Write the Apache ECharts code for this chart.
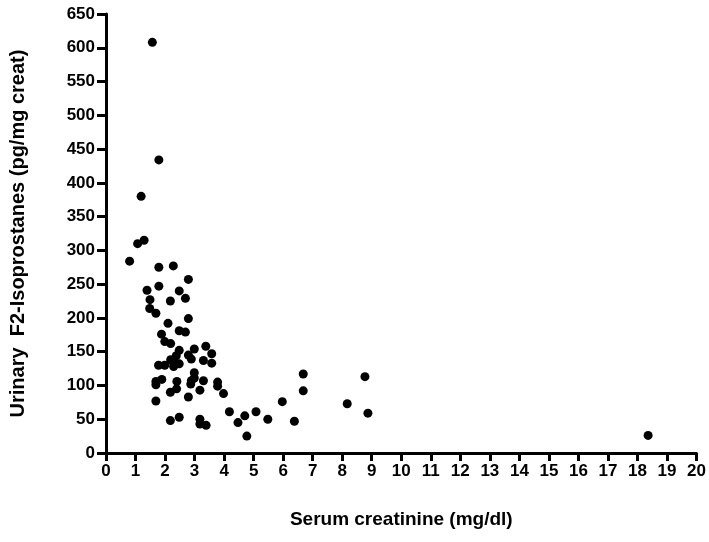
<!DOCTYPE html>
<html>
<head>
<meta charset="utf-8">
<script src="https://cdn.jsdelivr.net/npm/echarts@6/dist/echarts.min.js"></script>
<style>
  html, body { margin: 0; padding: 0; background: #fff; }
  #chart { width: 709px; height: 542px; }
</style>
</head>
<body>
<div id="chart"></div>
<script>
// serum creatinine (mg/dl)
var creatinine = [
  1.57, 1.79, 1.19, 1.07, 1.29, 0.80, 1.79, 2.28, 2.79, 1.39,
  1.79, 2.48, 1.49, 2.18, 2.69, 1.48, 1.69, 2.79, 2.10, 1.88,
  2.48, 2.69, 1.99, 2.19, 2.48, 2.79, 2.99, 3.38, 3.58, 2.89,
  3.30, 3.58, 2.19, 2.38, 2.29, 2.48, 2.29, 1.78, 1.99, 2.99,
  1.69, 1.69, 1.89, 2.40, 2.89, 2.99, 3.30, 2.87, 3.78, 3.78,
  2.39, 2.18, 3.18, 3.98, 2.79, 1.69, 4.18, 5.08, 2.18, 2.48,
  3.18, 3.18, 3.39, 4.47, 4.70, 4.77, 5.48, 5.97, 6.38, 6.68,
  6.68, 8.17, 8.77, 8.87, 18.36
];
// urinary F2-isoprostanes (pg/mg creat)
var isoprostanes = [
  608, 434, 380, 310, 315, 284, 275, 277, 257, 241,
  247, 240, 227, 225, 229, 214, 207, 199, 192, 176,
  181, 179, 165, 162, 152, 145, 154, 158, 147, 139,
  137, 133, 138, 144, 134, 132, 128, 130, 130, 119,
  106, 101, 109, 106, 107, 111, 107, 102, 105, 99,
  95, 90, 93, 88, 83, 77, 61, 61, 48, 53,
  50, 43, 41, 45, 55, 25, 50, 76, 47, 117,
  92, 73, 113, 59, 26
];
var xName = 'Serum creatinine (mg/dl)';
var yName = 'Urinary  F2-Isoprostanes (pg/mg creat)';

var points = creatinine.map(function (x, i) { return [x, isoprostanes[i]]; });

var font = "'Liberation Sans', Arial, Helvetica, sans-serif";
var myChart = echarts.init(document.getElementById('chart'));
option = {
  animation: false,
  grid: { left: 103, right: 9, top: 14, bottom: 89 },
  xAxis: {
    type: 'value',
    min: 0, max: 20, interval: 1,
    name: xName,
    nameLocation: 'middle',
    nameGap: 57,
    nameTextStyle: { color: '#000', fontSize: 19, fontWeight: 'bold', fontFamily: font },
    axisLine: { onZero: false, lineStyle: { color: '#000', width: 3 } },
    axisTick: { length: 8, lineStyle: { color: '#000', width: 3 } },
    axisLabel: { color: '#000', fontSize: 17, fontWeight: 'bold', fontFamily: font, margin: 10 },
    splitLine: { show: false }
  },
  yAxis: {
    type: 'value',
    min: 0, max: 650, interval: 50,
    name: yName,
    nameLocation: 'middle',
    nameGap: 78,
    nameTextStyle: { color: '#000', fontSize: 20, fontWeight: 'bold', fontFamily: font },
    axisLine: { show: true, onZero: false, lineStyle: { color: '#000', width: 3 } },
    axisTick: { show: true, length: 9, lineStyle: { color: '#000', width: 3 } },
    axisLabel: { color: '#000', fontSize: 17, fontWeight: 'bold', fontFamily: font, margin: 11 },
    splitLine: { show: false }
  },
  series: [{
    type: 'scatter',
    symbol: 'circle',
    symbolSize: 9,
    itemStyle: { color: '#000', opacity: 1 },
    data: points
  }]
};
myChart.setOption(option);
</script>
</body>
</html>
